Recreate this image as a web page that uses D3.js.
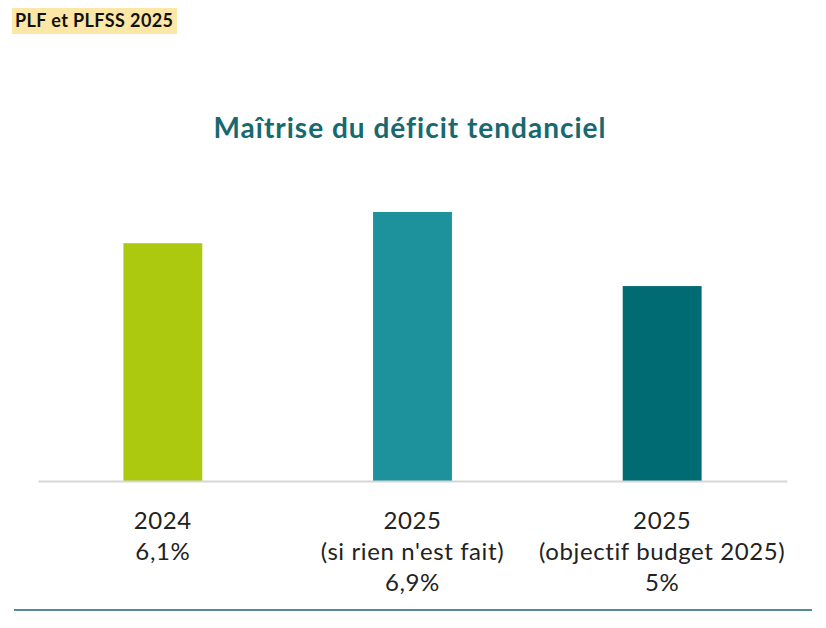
<!DOCTYPE html>
<html><head><meta charset="utf-8">
<script src="https://cdn.jsdelivr.net/npm/d3@7"></script>
<style>body{margin:0;background:#fff;}svg{display:block;}</style>
</head><body>
<svg id="c" width="826" height="628"></svg>
<script>
const categories = ["2024", "2025", "2025"];
const subLabels = ["", "(si rien n'est fait)", "(objectif budget 2025)"];
const values = [6.1, 6.9, 5.0];
const valueLabels = ["6,1%", "6,9%", "5%"];
const colors = ["#adc90f", "#1e929c", "#016b73"];

const svg = d3.select("#c");
const font = "Lato, 'Open Sans', sans-serif";

// header tag
svg.append("rect").attr("x", 12).attr("y", 8).attr("width", 165).attr("height", 26).attr("fill", "#fde7a6");
svg.append("text").attr("x", 15).attr("y", 27).attr("font-family", font).attr("font-weight", 700)
  .attr("font-size", 18).attr("letter-spacing", 0.4).attr("fill", "#111").text("PLF et PLFSS 2025");

// title
svg.append("text").attr("x", 410).attr("y", 138).attr("text-anchor", "middle").attr("font-family", font)
  .attr("font-weight", 700).attr("font-size", 28).attr("letter-spacing", 1).attr("fill", "#17696f")
  .text("Maîtrise du déficit tendanciel");

const idx = d3.range(values.length);
const x = d3.scaleBand().domain(idx).range([38, 787]).paddingInner(0.684).paddingOuter(0.342);
const y = d3.scaleLinear().domain([0, 6.9]).range([481, 212]);

svg.selectAll("rect.bar").data(idx).join("rect").attr("class", "bar")
  .attr("x", i => x(i)).attr("width", x.bandwidth())
  .attr("y", i => y(values[i])).attr("height", i => y(0) - y(values[i]))
  .attr("fill", i => colors[i]);

const axis = svg.append("g").attr("transform", "translate(0,481)")
  .call(d3.axisBottom(x).tickSize(0).tickFormat(""));
axis.select(".domain").attr("stroke", "#d6d6d6").attr("stroke-width", 2);
axis.selectAll(".tick text").remove();
axis.selectAll(".tick").each(function(i) {
  const lines = [categories[i]];
  if (subLabels[i]) lines.push(subLabels[i]);
  lines.push(valueLabels[i]);
  const t = d3.select(this).append("text").attr("text-anchor", "middle").attr("font-family", font)
    .attr("font-size", 24).attr("letter-spacing", 0.6).attr("fill", "#222");
  lines.forEach((l, k) => t.append("tspan").attr("x", 0).attr("y", 48 + k * 31).text(l));
});

// bottom rule
svg.append("line").attr("x1", 14).attr("x2", 812).attr("y1", 610).attr("y2", 610)
  .attr("stroke", "#1c6470").attr("stroke-width", 1.5);
</script>
</body></html>
